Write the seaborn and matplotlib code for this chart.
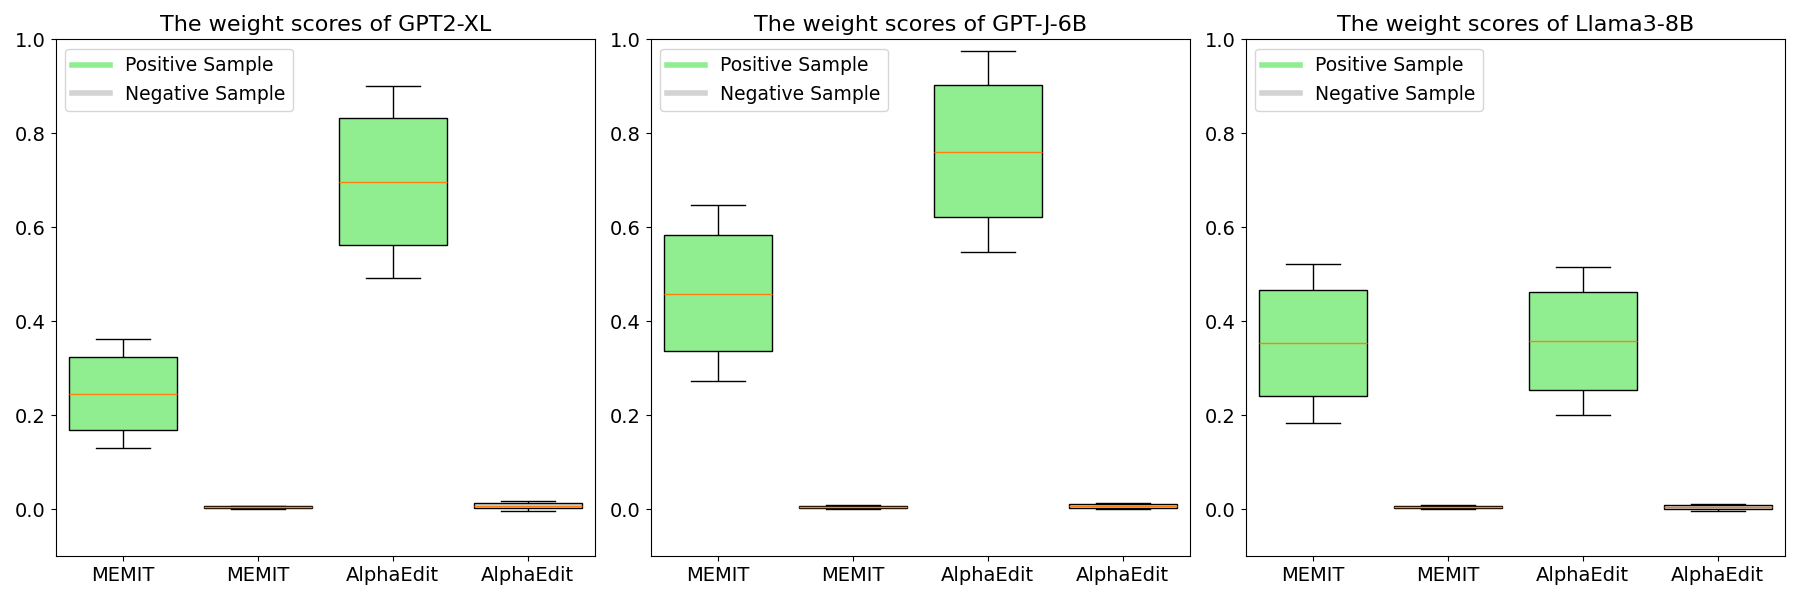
import matplotlib
matplotlib.use('Agg')
import matplotlib.pyplot as plt
from matplotlib.lines import Line2D
import seaborn as sns
import pandas as pd

models = ['GPT2-XL', 'GPT-J-6B', 'Llama3-8B']
groups = ['MEMIT_pos', 'MEMIT_neg', 'AlphaEdit_pos', 'AlphaEdit_neg']
tick_labels = ['MEMIT', 'MEMIT', 'AlphaEdit', 'AlphaEdit']

# five-number summaries: low whisker, q1, median, q3, high whisker
gpt2_xl = [
    [0.131, 0.169, 0.246, 0.323, 0.362],
    [0.000, 0.002, 0.004, 0.006, 0.008],
    [0.493, 0.562, 0.697, 0.833, 0.901],
    [-0.003, 0.002, 0.008, 0.014, 0.018],
]
gpt_j_6b = [
    [0.274, 0.336, 0.459, 0.584, 0.648],
    [0.000, 0.002, 0.004, 0.007, 0.009],
    [0.548, 0.621, 0.761, 0.903, 0.975],
    [0.000, 0.003, 0.007, 0.011, 0.013],
]
llama3_8b = [
    [0.183, 0.240, 0.353, 0.466, 0.522],
    [0.000, 0.002, 0.004, 0.007, 0.009],
    [0.201, 0.254, 0.358, 0.462, 0.515],
    [-0.003, 0.000, 0.005, 0.009, 0.011],
]

pos_color = 'lightgreen'
neg_color = 'lightgrey'

rows = []
for model, summary in zip(models, [gpt2_xl, gpt_j_6b, llama3_8b]):
    for group, values in zip(groups, summary):
        for v in values:
            rows.append({'model': model, 'group': group, 'value': v})
df = pd.DataFrame(rows)

fig, axes = plt.subplots(1, 3, figsize=(18, 6), dpi=100)
palette = dict(zip(groups, [pos_color, neg_color, pos_color, neg_color]))

for ax, model in zip(axes, models):
    sub = df[df.model == model]
    sns.boxplot(data=sub, x='group', y='value', hue='group', order=groups,
                palette=palette, legend=False, width=0.8, saturation=1,
                linecolor='black', linewidth=1, ax=ax,
                medianprops=dict(color='#ff7f0e', linewidth=1))
    ax.set_ylim(-0.1, 1.0)
    ax.set_xticks(range(len(groups)))
    ax.set_xticklabels(tick_labels)
    ax.set_xlabel('')
    ax.set_ylabel('')
    ax.tick_params(labelsize=14)
    ax.set_title(f'The weight scores of {model}', fontsize=16)
    handles = [Line2D([0], [0], color=pos_color, lw=4),
               Line2D([0], [0], color=neg_color, lw=4)]
    ax.legend(handles, ['Positive Sample', 'Negative Sample'],
              loc='upper left', fontsize=13.5)

plt.tight_layout()
plt.savefig('out.png')
